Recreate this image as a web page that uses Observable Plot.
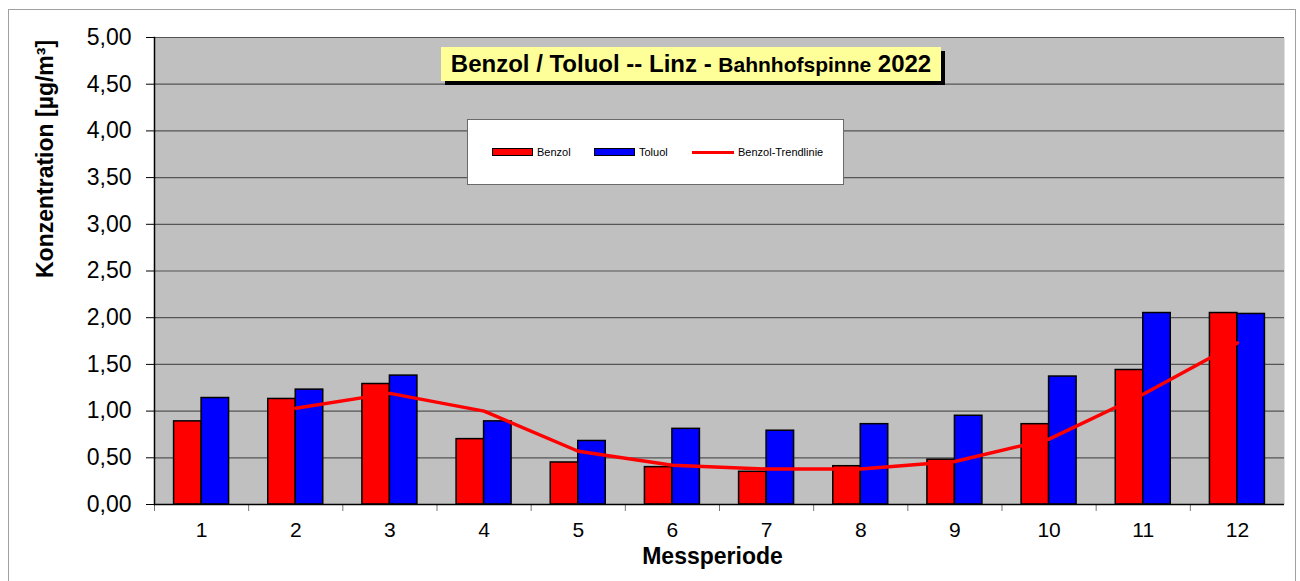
<!DOCTYPE html>
<html>
<head>
<meta charset="utf-8">
<script src="https://cdn.jsdelivr.net/npm/d3@7"></script>
<script src="https://cdn.jsdelivr.net/npm/@observablehq/plot@0.6"></script>
<style>
  html, body { margin: 0; padding: 0; background: #fff; }
  body { width: 1300px; height: 581px; position: relative; overflow: hidden; font-family: "Liberation Sans", Arial, sans-serif; }
  #frame { position: absolute; left: 8px; top: 9px; width: 1288px; height: 600px; border: 1px solid #a0a0a0; box-sizing: border-box; }
  #chart { position: absolute; left: 0; top: 0; }
  #title { position: absolute; left: 441px; top: 47px; width: 500px; height: 34px; background: #ffff99; box-shadow: 4px 4px 0 #000; box-sizing: border-box;
           font-weight: bold; font-size: 24px; line-height: 34px; text-align: center; color: #000; white-space: nowrap; }
  #title .small { font-size: 21px; }
  #legend { position: absolute; left: 467px; top: 119px; width: 377px; height: 66px; background: #fff; border: 1px solid #6a6a6a; box-sizing: border-box; }
  .item { position: absolute; top: 0; height: 64px; display: flex; align-items: center; font-size: 11px; color: #000; }
  .sw { width: 39px; height: 6px; border: 1.5px solid #000; margin-right: 4px; }
  .ln { width: 42px; height: 3px; background: #ff0000; margin-right: 4px; }
</style>
</head>
<body>
<div id="frame"></div>
<div id="chart"></div>
<div id="title">Benzol / Toluol -- Linz - <span class="small">Bahnhofspinne</span> 2022</div>
<div id="legend">
  <div class="item" style="left:24px"><div class="sw" style="background:#ff0000"></div>Benzol</div>
  <div class="item" style="left:126px"><div class="sw" style="background:#0000ff"></div>Toluol</div>
  <div class="item" style="left:224px"><div class="ln"></div>Benzol-Trendlinie</div>
</div>
<script>
const periods = [1, 2, 3, 4, 5, 6, 7, 8, 9, 10, 11, 12];
const benzol  = [0.89, 1.13, 1.29, 0.70, 0.45, 0.40, 0.35, 0.41, 0.48, 0.86, 1.44, 2.05];
const toluol  = [1.14, 1.23, 1.38, 0.89, 0.68, 0.81, 0.79, 0.86, 0.95, 1.37, 2.05, 2.04];
const trendPeriods = [2, 3, 4, 5, 6, 7, 8, 9, 10, 11, 12];
const trend        = [1.03, 1.19, 1.00, 0.57, 0.42, 0.38, 0.38, 0.46, 0.70, 1.18, 1.73];
const yTicks = [0, 0.5, 1, 1.5, 2, 2.5, 3, 3.5, 4, 4.5, 5];
const xTitle = "Messperiode";
const yTitle = "Konzentration [µg/m³]";

const rows = periods.map((p, i) => ({p, benzol: benzol[i], toluol: toluol[i]}));
const trendRows = trendPeriods.map((p, i) => ({p, v: trend[i]}));

const W = 1300, H = 581, mL = 154, mR = 16, mT = 37, mB = 77;
const bw = (W - mL - mR) / periods.length;
const barW = 27.5;
const fmt = d => d.toFixed(2).replace(".", ",");

const chart = Plot.plot({
  width: W, height: H,
  marginLeft: mL, marginRight: mR, marginTop: mT, marginBottom: mB,
  style: {fontFamily: "'Liberation Sans', Arial, sans-serif", background: "transparent", overflow: "visible", color: "#000"},
  x: {type: "band", domain: periods, padding: 0, round: false, label: null},
  y: {domain: [0, 5], label: null},
  marks: [
    Plot.frame({fill: "#c0c0c0", stroke: null}),
    Plot.gridY(yTicks, {stroke: "#555", strokeOpacity: 1, strokeWidth: 1.2}),
    Plot.barY(rows, {x: "p", y: "benzol", fill: "#ff0000", stroke: "#000", strokeWidth: 1.5,
      insetLeft: bw / 2 - barW, insetRight: bw / 2}),
    Plot.barY(rows, {x: "p", y: "toluol", fill: "#0000ff", stroke: "#000", strokeWidth: 1.5,
      insetLeft: bw / 2, insetRight: bw / 2 - barW}),
    Plot.line(trendRows, {x: "p", y: "v", stroke: "#ff0000", strokeWidth: 3.5}),
    Plot.ruleX(periods, {x: d => d, dx: -bw / 2, y1: 0, y2: 0, insetBottom: -7, stroke: "#777"}),
    Plot.ruleY([0], {stroke: "#000", strokeWidth: 1.5}),
    Plot.frame({anchor: "left", stroke: "#000", strokeWidth: 1.5}),
    Plot.axisY(yTicks, {tickSize: 8, tickPadding: 15, tickFormat: fmt, fontSize: 23, label: null, stroke: "#000"}),
    Plot.axisX(periods, {tickSize: 0, tickPadding: 18, fontSize: 21, label: null}),
    Plot.text([xTitle], {frameAnchor: "bottom", dx: -7, dy: 59, fontSize: 23, fontWeight: "bold", fill: "#000"}),
    Plot.text([yTitle], {frameAnchor: "left", dx: -109, dy: 7, rotate: -90, fontSize: 23, fontWeight: "bold", fill: "#000"})
  ]
});
document.getElementById("chart").appendChild(chart);
</script>
</body>
</html>
